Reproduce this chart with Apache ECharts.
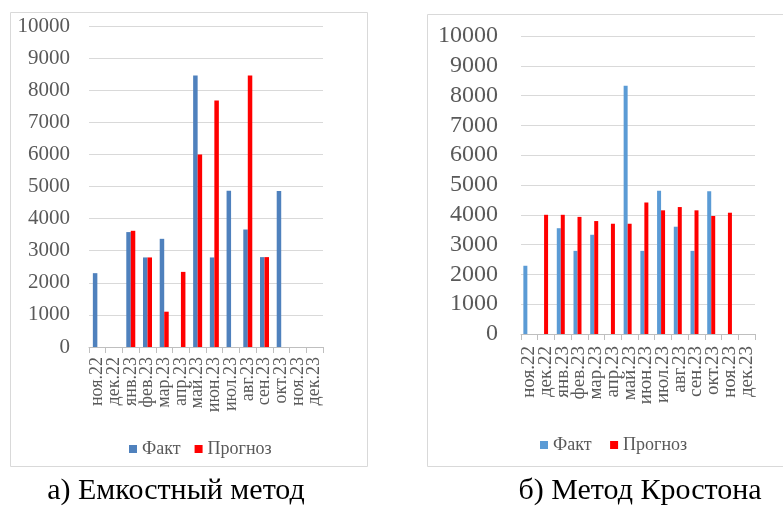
<!DOCTYPE html>
<html>
<head>
<meta charset="utf-8">
<script src="https://cdn.jsdelivr.net/npm/echarts@6/dist/echarts.min.js"></script>
<style>
html,body{margin:0;padding:0;background:#fff;}
#c{position:absolute;left:0;top:0;width:783px;height:507px;z-index:2;}
#fw{position:absolute;left:20px;top:20px;font-family:'Liberation Serif';font-size:20px;color:#fff;z-index:1;}
</style>
</head>
<body>
<div id="fw">Liberation Serif 0123456789 ноя дек янв Факт Прогноз Емкостный метод Кростона</div>
<div id="c"></div>
<script>
var categories = ['ноя.22','дек.22','янв.23','фев.23','мар.23','апр.23','май.23','июн.23','июл.23','авг.23','сен.23','окт.23','ноя.23','дек.23'];
var yTicks = [0,1000,2000,3000,4000,5000,6000,7000,8000,9000,10000];
var seriesNames = ['Факт','Прогноз'];
// а) Емкостный метод
var factA = [2300, null, 3580, 2790, 3370, null, 8460, 2790, 4870, 3660, 2800, 4860, null, null];
var forecastA = [null, null, 3620, 2790, 1100, 2340, 6000, 7680, null, 8460, 2800, null, null, null];
// б) Метод Кростона
var factB = [2290, null, 3550, 2790, 3330, null, 8330, 2790, 4810, 3600, 2790, 4790, null, null];
var forecastB = [null, 4000, 4000, 3930, 3790, 3700, 3700, 4410, 4150, 4260, 4150, 3960, 4070, null];
var captions = ['а) Емкостный метод', 'б) Метод Кростона'];

var FONT = 'Liberation Serif';
var chart = echarts.init(document.getElementById('c'));

function xAxis(idx, size, margin){
  return {
    type:'category', gridIndex:idx, data:categories,
    axisLine:{lineStyle:{color:'#bfbfbf'}},
    axisTick:{show:true, length:6, lineStyle:{color:'#bfbfbf'}},
    axisLabel:{rotate:90, interval:0, margin:margin, color:'#595959', fontFamily:FONT, fontSize:size}
  };
}
function yAxis(idx, size, margin){
  return {
    type:'value', gridIndex:idx, min:yTicks[0], max:yTicks[yTicks.length-1], interval:1000,
    axisLine:{show:false}, axisTick:{show:false},
    splitLine:{lineStyle:{color:'#d9d9d9'}},
    axisLabel:{color:'#595959', fontFamily:FONT, fontSize:size, margin:margin, formatter:function(v){return String(v);}}
  };
}

function build(){
  chart.clear();
  chart.setOption({
    animation:false,
    textStyle:{fontFamily:FONT},
    grid:[
      {left:89, top:26, width:234, height:321},
      {left:521, top:36, width:234, height:298}
    ],
    xAxis:[xAxis(0,18,10), xAxis(1,19,12)],
    yAxis:[yAxis(0,21,19), yAxis(1,24,23)],
    legend:[
      {data:seriesNames.slice(), left:124, top:435, itemWidth:8, itemHeight:8, itemGap:14, icon:'rect',
       textStyle:{fontFamily:FONT, fontSize:18, color:'#595959'}},
      {data:[{name:seriesNames[0]+' '},{name:seriesNames[1]+' '}], left:535, top:431, itemWidth:8, itemHeight:8, itemGap:14, icon:'rect',
       textStyle:{fontFamily:FONT, fontSize:18, color:'#595959'}}
    ],
    series:[
      {name:seriesNames[0], type:'bar', xAxisIndex:0, yAxisIndex:0, data:factA, barWidth:4.5, barGap:'0%', itemStyle:{color:'#4f81bd'}},
      {name:seriesNames[1], type:'bar', xAxisIndex:0, yAxisIndex:0, data:forecastA, barWidth:4.5, barGap:'0%', itemStyle:{color:'#ff0000'}},
      {name:seriesNames[0]+' ', type:'bar', xAxisIndex:1, yAxisIndex:1, data:factB, barWidth:4, barGap:'0%', itemStyle:{color:'#5b9bd5'}},
      {name:seriesNames[1]+' ', type:'bar', xAxisIndex:1, yAxisIndex:1, data:forecastB, barWidth:4, barGap:'0%', itemStyle:{color:'#ff0000'}},
      {name:'spacer', type:'bar', xAxisIndex:1, yAxisIndex:1, data:[], barWidth:4, barGap:'0%'}
    ],
    graphic:[
      {type:'rect', shape:{x:10.5, y:12.5, width:357, height:454}, style:{fill:null, stroke:'#d9d9d9', lineWidth:1}, silent:true, z:-1},
      {type:'rect', shape:{x:427.5, y:14.5, width:360, height:452}, style:{fill:null, stroke:'#d9d9d9', lineWidth:1}, silent:true, z:-1},
      {type:'text', x:176, y:491, style:{text:captions[0], fontFamily:FONT, fontSize:30, fill:'#000', textAlign:'center', textVerticalAlign:'middle'}},
      {type:'text', x:640, y:491, style:{text:captions[1], fontFamily:FONT, fontSize:30, fill:'#000', textAlign:'center', textVerticalAlign:'middle'}}
    ]
  }, true);
}
build();
window.addEventListener('load', build);
if (document.fonts && document.fonts.ready) document.fonts.ready.then(build);
setTimeout(build, 200);
</script>
</body>
</html>
